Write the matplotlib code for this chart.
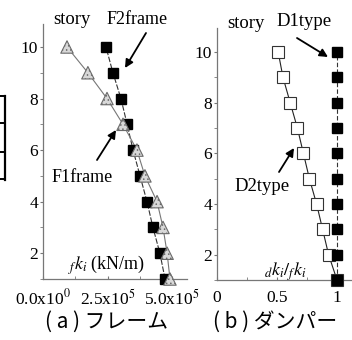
import matplotlib
matplotlib.use('Agg')
import matplotlib.pyplot as plt
from matplotlib.lines import Line2D
from matplotlib.ticker import MultipleLocator

plt.rcParams['font.family'] = ['Liberation Serif', 'Noto Sans CJK JP']
plt.rcParams['mathtext.fontset'] = 'stix'
plt.rcParams['hatch.linewidth'] = 0.6

# data, story 1 -> 10
stories = [1, 2, 3, 4, 5, 6, 7, 8, 9, 10]
f1frame = [4.92e5, 4.81e5, 4.65e5, 4.42e5, 3.95e5, 3.64e5, 3.10e5, 2.48e5, 1.74e5, 0.93e5]
f2frame = [4.73e5, 4.53e5, 4.26e5, 4.03e5, 3.76e5, 3.49e5, 3.26e5, 3.02e5, 2.71e5, 2.44e5]
d1type = [1.0, 1.0, 1.0, 1.0, 1.0, 1.0, 1.0, 1.0, 1.0, 1.0]
d2type = [1.0, 0.93, 0.88, 0.83, 0.77, 0.72, 0.67, 0.61, 0.55, 0.51]
xticks_a = [0, 2.5e5, 5.0e5]
xticklabels_a = ['0.0x10$^{0}$', '2.5x10$^{5}$', '5.0x10$^{5}$']
xticks_b = [0, 0.5, 1]
xticklabels_b = ['0', '0.5', '1']
yticks = [2, 4, 6, 8, 10]

W, H = 352, 340
fig = plt.figure(figsize=(W / 100, H / 100), dpi=100)

def fp(x, y):
    # pixel position (from top-left) -> figure fraction
    return (x / W, 1 - y / H)

def style_axis(ax):
    ax.spines['top'].set_visible(False)
    ax.spines['right'].set_visible(False)
    for s in ('left', 'bottom'):
        ax.spines[s].set_color('#777777')
        ax.spines[s].set_linewidth(0.9)
        ax.spines[s].set_linestyle((0, (4, 1)))
    ax.set_yticks(yticks)
    ax.yaxis.set_minor_locator(MultipleLocator(1))
    ax.tick_params(axis='y', which='both', direction='out', length=2.5, pad=1,
                   color='#777777', labelsize=12.5)
    ax.tick_params(axis='x', which='both', direction='in', length=2.5, pad=7,
                   color='#777777', labelsize=12.5)
    ax.patch.set_alpha(0)

# (a) frame stiffness
ax1 = fig.add_axes([43 / W, 61 / H, 144 / W, 256 / H])
ax1.plot(f2frame, stories, color='#333333', lw=0.8, ls=(0, (5, 1.5)), zorder=2)
ax1.plot(f1frame, stories, color='#777777', lw=0.8, zorder=2)
ax1.plot(f2frame, stories, ls='none', marker='s', ms=7.5, mfc='black', mec='black',
         clip_on=False, zorder=3)
ax1.scatter(f1frame, stories, marker='^', s=80, facecolor='#d8d8d8', edgecolor='#6a6a6a',
            hatch='....', linewidth=0.8, clip_on=False, zorder=4)
ax1.set_xlim(0, 5.58e5)
ax1.set_ylim(1, 10.93)
ax1.set_xticks(xticks_a)
ax1.set_xticklabels(xticklabels_a)
ax1.xaxis.set_minor_locator(MultipleLocator(1.25e5))
style_axis(ax1)

# (b) damper ratio
ax2 = fig.add_axes([217 / W, 60 / H, 135 / W, 252 / H])
ax2.plot(d1type, stories, color='#333333', lw=0.8, ls=(0, (4, 2)), zorder=2)
ax2.plot(d2type, stories, color='#222222', lw=0.8, zorder=2)
ax2.plot(d2type, stories, ls='none', marker='s', ms=8.5, mfc='white', mec='#333333',
         mew=0.8, clip_on=False, zorder=3)
ax2.plot(d1type, stories, ls='none', marker='s', ms=7.5, mfc='black', mec='black',
         clip_on=False, zorder=4)
ax2.set_xlim(0, 1.125)
ax2.set_ylim(1, 10.95)
ax2.set_xticks(xticks_b)
ax2.set_xticklabels(xticklabels_b)
ax2.xaxis.set_minor_locator(MultipleLocator(0.25))
style_axis(ax2)

# labels inside the plots
fig.text(*fp(72, 20), 'story', ha='center', va='center', fontsize=13.5)
fig.text(*fp(137, 19), 'F2frame', ha='center', va='center', fontsize=13)
fig.text(*fp(82, 178), 'F1frame', ha='center', va='center', fontsize=13)
fig.text(*fp(107, 265), r'$_{f}k_{i}$ (kN/m)', ha='center', va='center', fontsize=13)
fig.text(*fp(246, 24), 'story', ha='center', va='center', fontsize=13.5)
fig.text(*fp(304, 22), 'D1type', ha='center', va='center', fontsize=13.5)
fig.text(*fp(262, 186), 'D2type', ha='center', va='center', fontsize=13.5)
fig.text(*fp(285, 272), r'$_{d}k_{i}/_{f}k_{i}$', ha='center', va='center', fontsize=13)

arrow = dict(arrowstyle='-|>', color='black', lw=1.3, mutation_scale=12, shrinkA=0, shrinkB=0)
for tail, tip in [((146, 33), (125, 68)), ((97, 160), (116, 130)),
                  ((297, 38), (328, 57)), ((279, 172), (294, 148))]:
    fig.add_artist(matplotlib.patches.FancyArrowPatch(fp(*tail), fp(*tip),
                   transform=fig.transFigure, **arrow))

# captions
fig.text(*fp(107, 322), '( a ) フレーム', ha='center', va='center', fontsize=15,
         family=['Noto Sans CJK JP', 'DejaVu Sans'])
fig.text(*fp(275, 322), '( b ) ダンパー', ha='center', va='center', fontsize=15,
         family=['Noto Sans CJK JP', 'DejaVu Sans'])

# piece of the neighbouring table at the left edge
fig.add_artist(Line2D([fp(5, 96)[0]] * 2, [fp(5, 96)[1], fp(5, 180)[1]],
                      transform=fig.transFigure, color='black', lw=1.6))
for yy in [96, 123, 152, 179]:
    fig.add_artist(Line2D([0, fp(5, yy)[0]], [fp(5, yy)[1]] * 2,
                          transform=fig.transFigure, color='black', lw=1.4))

fig.savefig('out.png', dpi=100)
